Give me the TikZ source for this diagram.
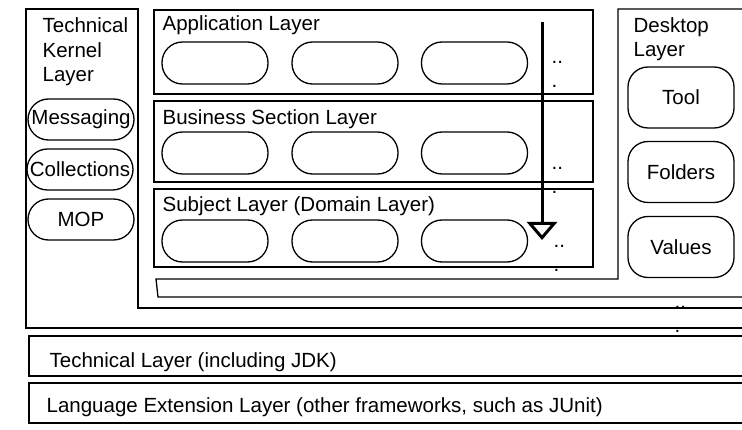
\documentclass[tikz,border=0pt]{standalone}
\usepackage{fontspec}
\setmainfont{Liberation Sans}
\usetikzlibrary{arrows.meta, positioning, calc}

\begin{document}
\begin{tikzpicture}[x=1pt, y=-1pt, line width=1.3pt,
    font=\fontsize{20.5}{24.5}\selectfont,
    lbl/.style={anchor=base west, inner sep=0pt, align=left},
    pill/.style={draw, rounded corners=20.5pt, minimum width=106pt, minimum height=41pt, inner sep=0pt},
    tile/.style={draw, rounded corners=20pt, minimum width=106pt, minimum height=61pt, inner sep=0pt},
    more/.style={anchor=base west, inner sep=0pt, align=left}]
    \clip (0,0) rectangle (742,430);

%kernel and desktop frames
\draw (26,9) -- (138,9) -- (138,308) -- (760,308) -- (760,328) -- (26,328) -- cycle;
\draw (156,279) -- (618,279) -- (618,9) -- (760,9) -- (760,297) -- (158,297) -- cycle;

\draw (154,10)  rectangle (593,94);
\draw (154,101) rectangle (593,182);
\draw (154,189) rectangle (593,267);

\draw (29,336) rectangle (760,376);
\draw (29,383) rectangle (760,423);

% multi-line labels sit on their last baseline
\node [lbl] (Kernel_lbl) at (42,82) {Technical\\Kernel\\Layer};
\node [lbl] (Desktop_lbl) at (633,57) {Desktop\\Layer};
\node [lbl] (App_lbl) at (162,31) {Application Layer};
\node [lbl] (Bus_lbl) at (162,125) {Business Section Layer};
\node [lbl] (Sub_lbl) at (162,212) {Subject Layer (Domain Layer)};
\node [lbl] (Tech_lbl) at (49,367) {Technical Layer (including JDK)};
\node [lbl] (LangExt_lbl) at (46,413) {Language Extension Layer (other frameworks, such as JUnit)};

\node [pill] (Messaging) at (81,119.5) {Messaging};
\node [pill] (Collections) at (80,169.5) {Collections};
\node [pill] (MOP) at (81,219.5) {MOP};

\node [pill, minimum height=42pt] (App_1) at (215,63) {};
\node [pill, minimum height=42pt] (App_2) at (345,63) {};
\node [pill, minimum height=42pt] (App_3) at (474.5,63) {};

\node [pill, minimum height=42pt] (Bus_1) at (215,153) {};
\node [pill, minimum height=42pt] (Bus_2) at (345,153) {};
\node [pill, minimum height=42pt] (Bus_3) at (474.5,153) {};

\node [pill, minimum height=42pt] (Sub_1) at (215,241) {};
\node [pill, minimum height=42pt] (Sub_2) at (345,241) {};
\node [pill, minimum height=42pt] (Sub_3) at (474.5,241) {};

\node [more] (App_more) at (551,88) {..\\.};
\node [more] (Bus_more) at (551,194) {..\\.};
\node [more] (Sub_more) at (553,272) {..\\.};
\node [more] (Strip_more) at (674,333) {..\\.};

\node [tile] (Tool) at (681,97.5) {Tool};
\node [tile] (Folders) at (681,172) {Folders};
\node [tile] (Values) at (681,247) {Values};

\coordinate (arrow_start) at (542,22);
\coordinate (arrow_end) at (542,240);
\draw [line width=3pt, -{Triangle[open, width=30pt, length=18pt]}]
    (arrow_start) -- (arrow_end);

\end{tikzpicture}
\end{document}
